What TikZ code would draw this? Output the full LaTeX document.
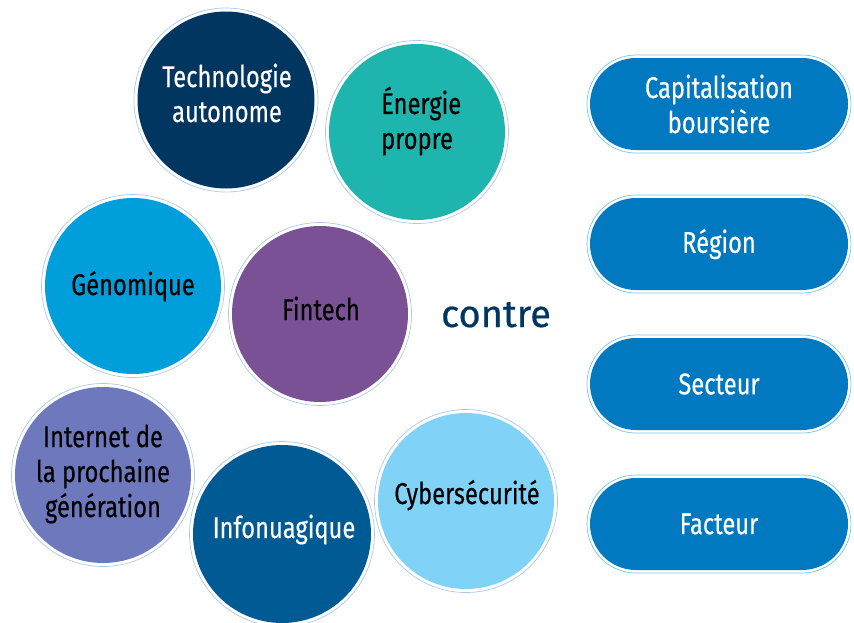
\documentclass[tikz,border=0pt]{standalone}
\usepackage{fontspec}
\setmainfont{Fira Sans}[FakeStretch=0.79,FakeBold=0.35]
\newfontfamily\contrefont{Fira Sans}[FakeBold=0.6]
\begin{document}
\begin{tikzpicture}[x=1pt,y=-1pt]
\definecolor{navy}{HTML}{003660}
\definecolor{teal1}{HTML}{1DB5AE}
\definecolor{geno}{HTML}{009FDB}
\definecolor{purp}{HTML}{7B5196}
\definecolor{inet}{HTML}{6E79BD}
\definecolor{infon}{HTML}{005A94}
\definecolor{cyber}{HTML}{80D3F6}
\definecolor{pillblue}{HTML}{0079C1}
\definecolor{ringc}{HTML}{A9C8EC}
\definecolor{pillring}{HTML}{72C6EC}
\useasboundingbox (0,0) rectangle (854,622);
\tikzset{
  bub/.style={circle,minimum size=#1,inner sep=0pt},
  ringo/.style={circle,minimum size=#1,inner sep=0pt,draw=ringc,line width=0.7pt},
  lbl/.style={inner sep=0pt,align=center,font=\fontsize{30}{35}\selectfont},
  pill/.style={rectangle,rounded corners=46pt,fill=pillblue,minimum width=258pt,minimum height=92pt,align=center,text=white,font=\fontsize{30}{35}\selectfont,inner sep=0pt},
  pillo/.style={rectangle,rounded corners=49pt,draw=pillring,line width=0.7pt,minimum width=264pt,minimum height=98pt}}
\newcommand{\bubble}[5]{%
  \node[ringo=#4+7pt] (#1r) at (#2,#3) {};
  \node[bub=#4,fill=#5] (#1) at (#2,#3) {};}
\bubble{tech}{226}{100}{177pt}{navy}
\bubble{ener}{417}{132}{176pt}{teal1}
\bubble{geno}{133}{286}{176pt}{geno}
\bubble{fin}{320}{314}{176pt}{purp}
\bubble{inet}{103}{475}{176pt}{inet}
\bubble{info}{282}{534}{178pt}{infon}
\bubble{cyb}{466}{501}{176pt}{cyber}
\node[lbl,text=white] (techt) at (227,93) {Technologie\\autonome};
\node[lbl,text=black,align=left,anchor=west] (enert) at (381,121) {Énergie\\propre};
\node[lbl,text=black,anchor=base] (genot) at (133,295) {Génomique};
\node[lbl,text=black,anchor=base] (fint) at (321,320) {Fintech};
\node[lbl,text=black] (inett) at (103,474) {Internet de\\la prochaine\\génération};
\node[lbl,text=white,anchor=base] (infot) at (284,538) {Infonuagique};
\node[lbl,text=black,anchor=base] (cybt) at (467,504) {Cybersécurité};
\node[text=navy,font=\contrefont\fontsize{38}{44}\selectfont,anchor=base,inner sep=0pt] (contre) at (496,327) {contre};
\foreach \y/\t/\n in {104/{Capitalisation\\boursière}/p1,244/Région/p2,384/Secteur/p3,524/Facteur/p4}{
  \node[pillo] (\n r) at (719,\y) {};
  \node[pill] (\n) at (719,\y) {\t};
}
\end{tikzpicture}
\end{document}
